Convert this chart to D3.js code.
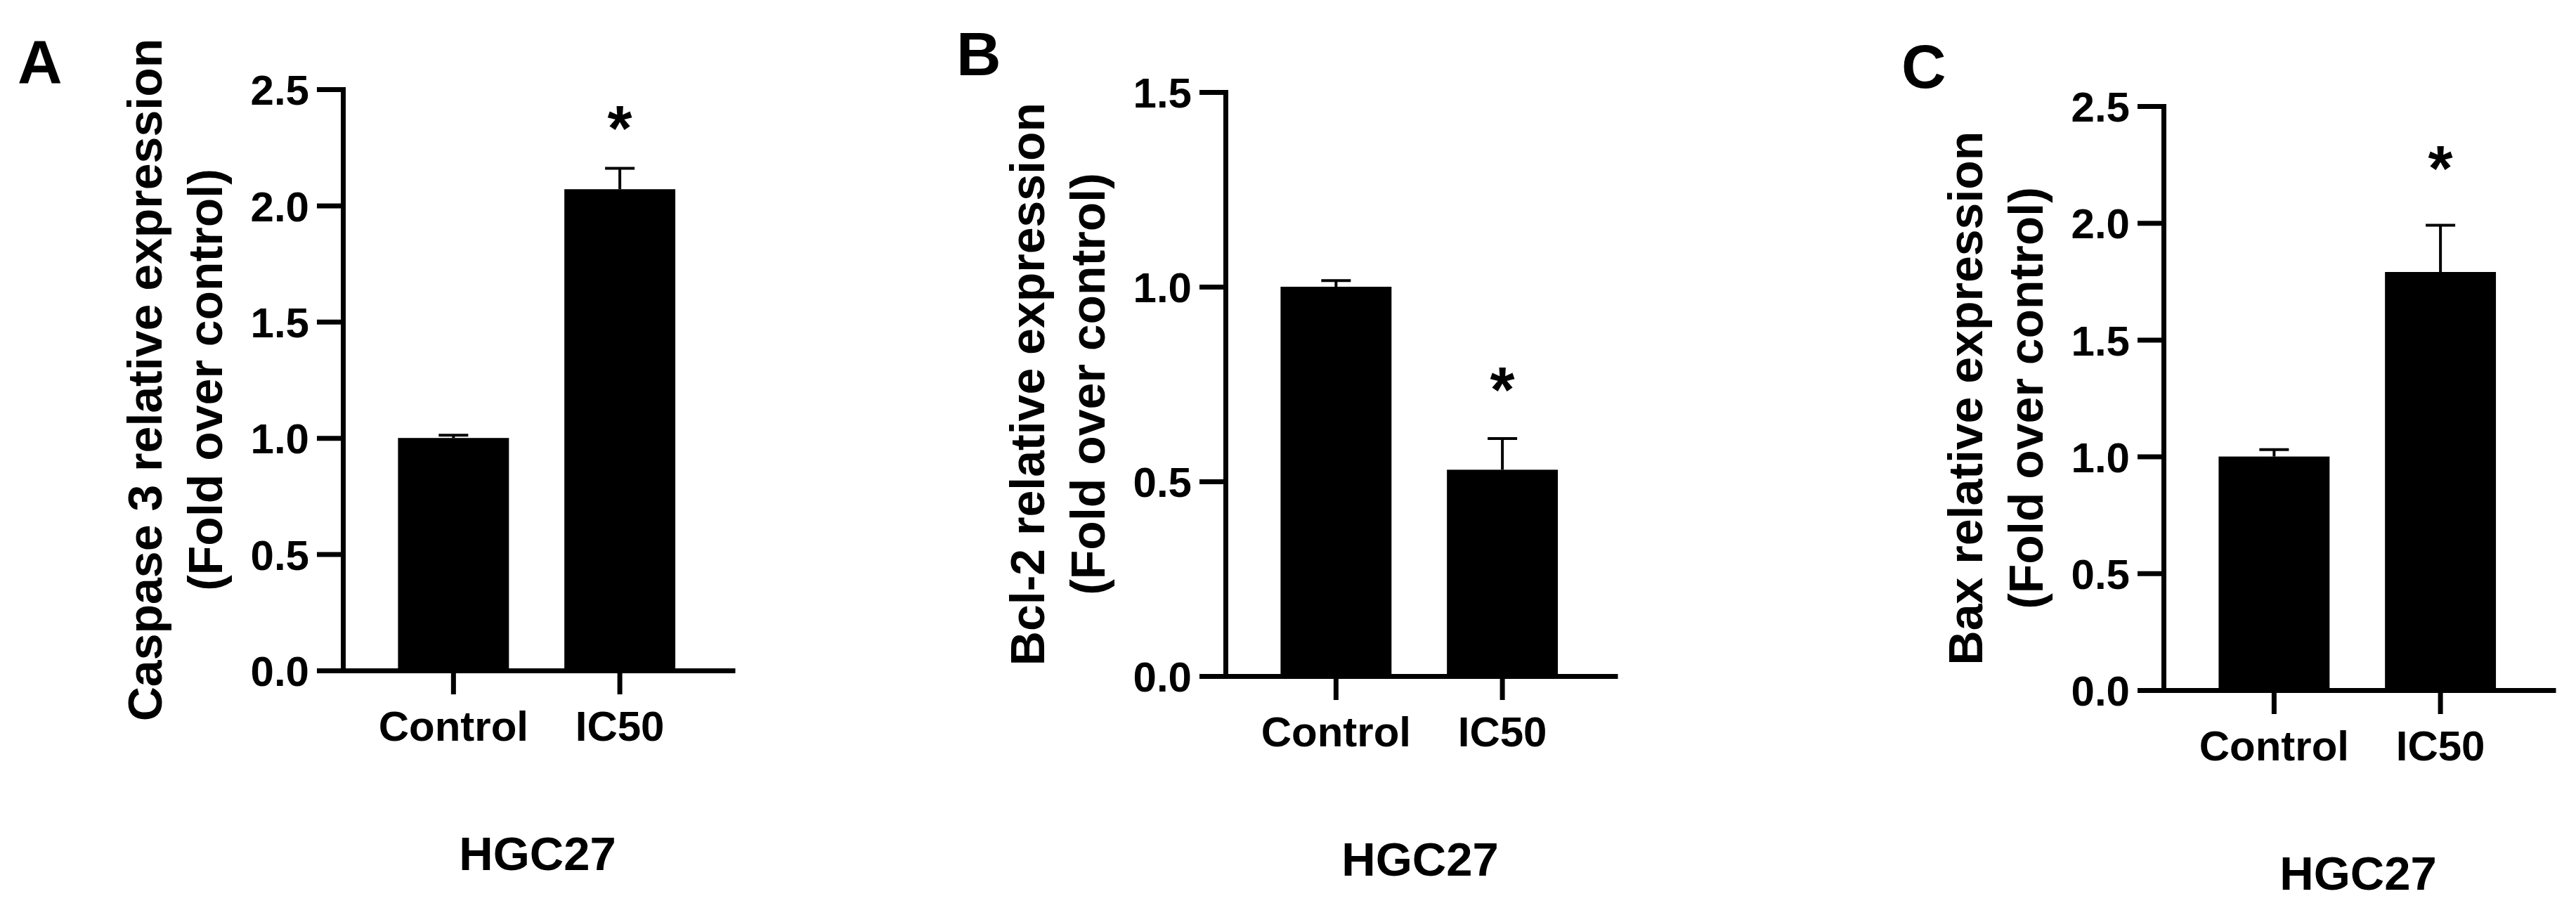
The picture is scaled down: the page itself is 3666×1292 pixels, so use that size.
<!DOCTYPE html>
<html>
<head>
<meta charset="utf-8">
<script src="https://cdn.jsdelivr.net/npm/d3@7"></script>
<style>
  html, body { margin: 0; padding: 0; background: #fff; }
  svg { display: block; }
  text { font-family: "Liberation Sans", Arial, Helvetica, sans-serif; font-weight: bold; fill: #000; }
</style>
</head>
<body>
<svg id="chart" width="3666" height="1292"></svg>
<script>
// ---------- data ----------
const categories = ["Control", "IC50"];
const panelLetters = ["A", "B", "C"];
const yTitlesLine1 = ["Caspase 3 relative expression", "Bcl-2 relative expression", "Bax relative expression"];
const yTitleLine2 = "(Fold over control)";
const xTitle = "HGC27";

const caspase3Mean = [1.00, 2.07];
const caspase3Sem  = [0.012, 0.09];
const bcl2Mean     = [1.00, 0.53];
const bcl2Sem      = [0.016, 0.08];
const baxMean      = [1.00, 1.79];
const baxSem       = [0.03, 0.20];

const yTicksA = [0, 0.5, 1.0, 1.5, 2.0, 2.5];
const yTicksB = [0, 0.5, 1.0, 1.5];
const yTicksC = [0, 0.5, 1.0, 1.5, 2.0, 2.5];

const significant = [false, true];            // "*" over IC50 in each panel
const starLevels = [2.39, 0.77, 2.29];       // height of "*" in data units

// ---------- layout ----------
const panels = [
  { mean: caspase3Mean, sem: caspase3Sem, ticks: yTicksA, x0: 488,  yTop: 127, yBot: 954, lx: 25,   ly: 118 },
  { mean: bcl2Mean,     sem: bcl2Sem,     ticks: yTicksB, x0: 1744, yTop: 131, yBot: 962, lx: 1361, ly: 107 },
  { mean: baxMean,      sem: baxSem,      ticks: yTicksC, x0: 3079, yTop: 151, yBot: 982, lx: 2706, ly: 125 }
];
const axisLen = 558;
const lineW = 7;

const svg = d3.select("#chart");
svg.append("rect").attr("width", 3666).attr("height", 1292).attr("fill", "#fff");

panels.forEach((p, i) => {
  // panel letter
  svg.append("text")
    .attr("x", p.lx).attr("y", p.ly)
    .attr("font-size", 88)
    .text(panelLetters[i]);

  const g = svg.append("g").attr("transform", `translate(${p.x0},0)`);

  const y = d3.scaleLinear()
    .domain([0, d3.max(p.ticks)])
    .range([p.yBot, p.yTop]);

  const x = d3.scaleBand()
    .domain(categories)
    .range([0, axisLen])
    .paddingInner(0.333)
    .paddingOuter(0.345)
    .align(0.48);

  // bars
  g.selectAll("rect.bar")
    .data(categories)
    .join("rect")
    .attr("class", "bar")
    .attr("x", d => x(d))
    .attr("width", x.bandwidth())
    .attr("y", (d, j) => y(p.mean[j]))
    .attr("height", (d, j) => y(0) - y(p.mean[j]))
    .attr("fill", "#000");

  // error bars (upward SEM)
  const capHalf = 21;
  const eb = g.selectAll("g.err")
    .data(categories)
    .join("g")
    .attr("class", "err");
  eb.append("line")
    .attr("x1", d => x(d) + x.bandwidth() / 2)
    .attr("x2", d => x(d) + x.bandwidth() / 2)
    .attr("y1", (d, j) => y(p.mean[j]))
    .attr("y2", (d, j) => y(p.mean[j] + p.sem[j]))
    .attr("stroke", "#000").attr("stroke-width", 4);
  eb.append("line")
    .attr("x1", d => x(d) + x.bandwidth() / 2 - capHalf)
    .attr("x2", d => x(d) + x.bandwidth() / 2 + capHalf)
    .attr("y1", (d, j) => y(p.mean[j] + p.sem[j]))
    .attr("y2", (d, j) => y(p.mean[j] + p.sem[j]))
    .attr("stroke", "#000").attr("stroke-width", 4);

  // significance stars
  g.selectAll("text.star")
    .data(categories.filter((d, j) => significant[j]))
    .join("text")
    .attr("class", "star")
    .attr("x", d => x(d) + x.bandwidth() / 2)
    .attr("y", y(starLevels[i]) + 0.56 * 90)
    .attr("text-anchor", "middle")
    .attr("font-size", 90)
    .text("*");

  // y axis
  const yAxis = d3.axisLeft(y)
    .tickValues(p.ticks)
    .tickFormat(d3.format(".1f"))
    .tickSize(37)
    .tickSizeOuter(0)
    .tickPadding(11);
  const ya = g.append("g").call(yAxis);
  ya.select(".domain").attr("stroke", "#000").attr("stroke-width", lineW).attr("stroke-linecap", "square");
  ya.selectAll(".tick line").attr("stroke", "#000").attr("stroke-width", lineW);
  ya.selectAll(".tick text")
    .attr("font-size", 60)
    .attr("font-family", "'Liberation Sans', Arial, sans-serif")
    .attr("font-weight", "bold")
    .attr("fill", "#000")
    .attr("dy", "0.36em");

  // x axis
  const xAxis = d3.axisBottom(x)
    .tickSize(34)
    .tickSizeOuter(0);
  const xa = g.append("g").attr("transform", `translate(0,${y(0)})`).call(xAxis);
  xa.select(".domain").attr("stroke", "#000").attr("stroke-width", lineW);
  xa.selectAll(".tick line").attr("stroke", "#000").attr("stroke-width", lineW);
  xa.selectAll(".tick text")
    .attr("font-size", 60)
    .attr("font-family", "'Liberation Sans', Arial, sans-serif")
    .attr("font-weight", "bold")
    .attr("fill", "#000")
    .attr("y", 100)
    .attr("dy", 0);

  // x title
  g.append("text")
    .attr("x", axisLen / 2 - 2)
    .attr("y", y(0) + 284)
    .attr("text-anchor", "middle")
    .attr("font-size", 67)
    .text(xTitle);

  // y title (two lines, rotated)
  const yc = (p.yTop + p.yBot) / 2;
  const yt = g.append("text")
    .attr("transform", `translate(-258,${yc}) rotate(-90)`)
    .attr("text-anchor", "middle")
    .attr("font-size", 68);
  yt.append("tspan").attr("x", 0).attr("y", 0).text(yTitlesLine1[i]);
  yt.append("tspan").attr("x", 0).attr("y", 86).text(yTitleLine2);
});
</script>
</body>
</html>
